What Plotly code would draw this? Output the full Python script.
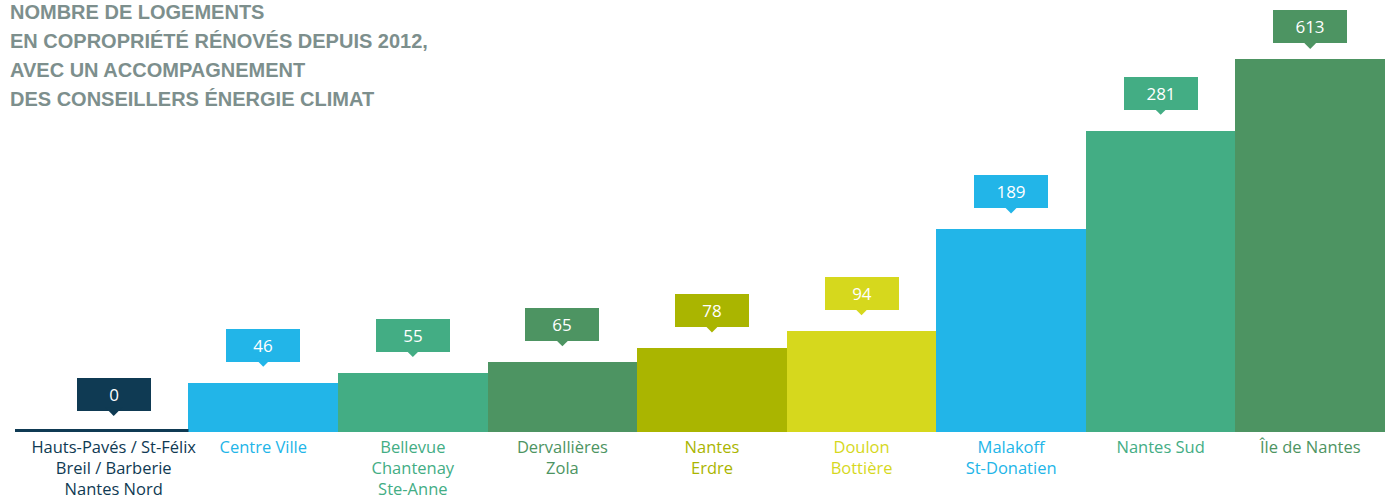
import plotly.graph_objects as go

# ---- data ----
CATEGORIES = [
    "Hauts-Pavés / St-Félix<br>Breil / Barberie<br>Nantes Nord",
    "Centre Ville",
    "Bellevue<br>Chantenay<br>Ste-Anne",
    "Dervallières<br>Zola",
    "Nantes<br>Erdre",
    "Doulon<br>Bottière",
    "Malakoff<br>St-Donatien",
    "Nantes Sud",
    "Île de Nantes",
]
VALUES = [0, 46, 55, 65, 78, 94, 189, 281, 613]
COLORS = ["#0f3a53", "#22b5e8", "#43ad84", "#4d9462", "#aab500",
          "#d6d81d", "#22b5e8", "#43ad84", "#4d9462"]
TITLE_LINES = [
    "NOMBRE DE LOGEMENTS",
    "EN COPROPRIÉTÉ RÉNOVÉS DEPUIS 2012,",
    "AVEC UN ACCOMPAGNEMENT",
    "DES CONSEILLERS ÉNERGIE CLIMAT",
]

# ---- styling ----
Y_MAX = 348  # axis cap: the tallest bar is cut at the top of the plot
X_POS = list(range(len(VALUES)))
WIDTHS = [1.16] + [1.0] * (len(VALUES) - 1)
OFFSETS = [-0.66] + [-0.5] * (len(VALUES) - 1)
LABEL_FONT = "Open Sans"

fig = go.Figure()
fig.add_trace(go.Bar(
    x=X_POS, y=VALUES, width=WIDTHS, offset=OFFSETS,
    marker=dict(color=COLORS, line=dict(width=0)),
    hoverinfo="skip", showlegend=False,
))

ticktext = [f'<span style="color:{c}">{t}</span>' for t, c in zip(CATEGORIES, COLORS)]

annotations = []
for i, (v, c) in enumerate(zip(VALUES, COLORS)):
    capped = v > Y_MAX
    annotations.append(dict(
        x=X_POS[i], y=min(v, Y_MAX), xref="x", yref="y",
        text=str(v), font=dict(family=LABEL_FONT, size=17, color="white"),
        bgcolor=c, width=74, height=33, borderpad=0, borderwidth=0,
        showarrow=True, ax=0, ay=-33 if capped else -37.5,
        standoff=10 if capped else 16,
        arrowhead=1, arrowsize=1.4, arrowwidth=2, arrowcolor=c,
    ))

for k, line in enumerate(TITLE_LINES):
    annotations.append(dict(
        x=0, y=1, xref="paper", yref="paper", xanchor="left", yanchor="middle",
        xshift=-7, yshift=47 - 29 * k, showarrow=False, text=line,
        font=dict(family="Liberation Sans", size=20, color="#7d8f8d", weight="bold"),
    ))

shapes = [dict(
    type="rect", xref="x", yref="y", ysizemode="pixel", yanchor=VALUES[0],
    x0=X_POS[0] + OFFSETS[0], x1=X_POS[0] + OFFSETS[0] + WIDTHS[0],
    y0=0, y1=3, fillcolor=COLORS[0], line=dict(width=0), layer="above",
)]

fig.update_layout(
    width=1391, height=501,
    margin=dict(l=15, r=6, t=59, b=69, autoexpand=False),
    paper_bgcolor="white", plot_bgcolor="white",
    bargap=0,
    xaxis=dict(
        range=[-0.66, 8.5], tickvals=X_POS, ticktext=ticktext, tickangle=0,
        showgrid=False, zeroline=False, showline=False, ticks="",
        automargin=False, ticklabelstandoff=3,
        tickfont=dict(family=LABEL_FONT, size=16.5), fixedrange=True,
    ),
    yaxis=dict(range=[0, Y_MAX], visible=False, showgrid=False,
               zeroline=False, fixedrange=True, automargin=False),
    annotations=annotations,
    shapes=shapes,
)

fig.write_html("out.html", config={"displayModeBar": False},
               post_script="document.body.style.margin='0';")
